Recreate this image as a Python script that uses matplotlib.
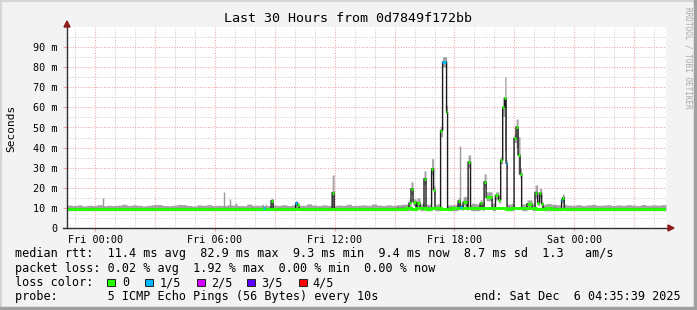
import numpy as np
import matplotlib
matplotlib.use("Agg")
import matplotlib.pyplot as plt
from matplotlib.patches import Rectangle, Polygon
from datetime import datetime, timedelta

W, H = 697, 310
MONO = "DejaVu Sans Mono"
GREEN, BLUE = "#26ff00", "#00b8ff"
SMOKE = "#a4a4a4"

END = datetime(2025, 12, 6, 4, 35, 39)
SPAN_H = 30
START = END - timedelta(hours=SPAN_H)

# ---- baseline, 15-minute bins (ms) ----
BIN_H = 0.25
base_med = [
    9.5, 9.5, 9.6, 9.5, 9.5, 9.4, 9.5, 9.5, 9.6, 9.5,
    9.5, 9.5, 9.4, 9.5, 9.5, 9.5, 9.6, 9.5, 9.5, 9.5,
    9.5, 9.4, 9.5, 9.5, 9.5, 9.6, 9.5, 9.5, 9.5, 9.4,
    9.5, 9.5, 9.5, 9.6, 9.5, 9.5, 9.5, 9.5, 9.4, 9.5,
    9.5, 9.5, 9.6, 9.5, 9.5, 9.5, 9.4, 9.5, 9.5, 9.5,
    9.6, 9.5, 9.5, 9.5, 9.5, 9.4, 9.5, 9.5, 9.6, 9.5,
    9.5, 9.5, 9.5, 9.5, 9.6, 9.6, 9.7, 9.7, 9.8, 9.7,
    9.8, 9.8, 9.7, 9.8, 9.8, 9.7, 9.7, 9.8, 9.9, 9.8,
    9.8, 9.9, 9.8, 9.9, 9.8, 9.8, 9.9, 9.8, 9.7, 9.8,
    9.8, 9.9, 9.8, 9.8, 9.7, 9.7, 9.8, 9.7, 9.6, 9.6,
    9.5, 9.5, 9.5, 9.4, 9.5, 9.5, 9.5, 9.5, 9.4, 9.5,
    9.5, 9.5, 9.5, 9.5, 9.4, 9.5, 9.5, 9.5, 9.5, 9.5,
]
base_hi = [
    11.4, 11.2, 11.5, 11.0, 11.3, 11.2, 11.6, 11.1, 11.3, 11.2,
    11.4, 11.8, 11.2, 11.5, 11.3, 11.0, 11.3, 11.6, 11.7, 11.2,
    11.1, 11.3, 11.7, 11.6, 11.2, 11.0, 11.5, 11.3, 11.6, 11.2,
    11.3, 11.2, 11.5, 11.4, 11.2, 11.1, 11.9, 11.3, 11.3, 11.8,
    11.2, 11.4, 11.3, 11.6, 11.2, 11.5, 11.3, 11.3, 12.0, 11.4,
    11.2, 11.5, 11.3, 11.1, 11.4, 11.3, 11.8, 11.2, 11.3, 11.5,
    11.3, 11.9, 11.4, 11.2, 11.5, 11.3, 11.6, 11.8, 12.0, 11.6,
    11.9, 12.2, 11.8, 11.5, 12.0, 11.7, 11.5, 11.6, 12.1, 11.8,
    11.6, 12.3, 11.9, 12.5, 11.8, 12.4, 12.0, 11.7, 11.9, 12.2,
    11.8, 12.0, 12.6, 12.3, 12.0, 11.8, 12.2, 11.8, 11.6, 11.9,
    11.4, 11.3, 11.6, 11.2, 11.5, 11.7, 11.3, 11.4, 11.6, 11.2,
    11.5, 11.3, 11.6, 11.4, 11.2, 11.7, 11.3, 11.5, 11.4, 11.6,
]
SMOKE_FLOOR = 8.6

# ---- latency excursions: hours since start, median / smoke range (ms), lost pings ----
ev_t0 = [9.841, 10.217, 11.444, 11.544, 13.272, 17.128, 17.228, 17.329, 17.529, 17.879,
         18.255, 18.355, 18.706, 18.806, 19.006, 19.582, 19.707, 19.833, 20.083, 20.684,
         20.884, 20.985, 21.460, 21.611, 21.711, 21.811, 21.911, 21.986, 22.387, 22.487,
         22.587, 22.687, 23.038, 23.438, 23.564, 23.664, 23.764, 24.766, 24.816]
ev_t1 = [9.916, 10.317, 11.544, 11.619, 13.372, 17.228, 17.329, 17.479, 17.679, 17.980,
         18.355, 18.430, 18.806, 19.006, 19.056, 19.682, 19.782, 20.033, 20.208, 20.784,
         20.985, 21.285, 21.611, 21.711, 21.811, 21.911, 21.986, 22.036, 22.487, 22.587,
         22.687, 22.763, 23.288, 23.564, 23.664, 23.764, 23.839, 24.816, 24.891]
ev_med = [9.8, 13.5, 12.3, 11.2, 17.6, 12.5, 19.5, 13.0, 12.5, 24.5,
          29.5, 19.0, 48.5, 82.6, 57.5, 13.5, 10.5, 12.8, 32.8, 12.3,
          23.0, 15.2, 16.2, 14.0, 33.8, 60.0, 64.5, 32.2, 44.6, 50.2,
          36.3, 27.0, 12.0, 17.6, 12.5, 17.3, 12.0, 14.0, 15.1]
ev_lo = [9.0, 10.0, 10.0, 10.0, 10.0, 10.0, 16.5, 11.0, 10.5, 21.5,
         26.5, 17.0, 45.4, 80.0, 56.0, 10.5, 9.5, 11.0, 30.0, 10.5,
         20.5, 13.5, 14.0, 12.5, 32.0, 55.5, 38.8, 30.5, 42.5, 40.0,
         26.5, 25.0, 10.5, 15.0, 11.0, 15.0, 10.5, 12.5, 13.0]
ev_hi = [11.0, 14.8, 13.5, 12.5, 26.4, 14.5, 23.0, 14.5, 15.0, 28.4,
         34.5, 21.0, 50.7, 85.2, 61.0, 15.0, 12.0, 15.6, 36.3, 14.0,
         27.0, 18.0, 18.0, 15.5, 35.5, 65.0, 75.3, 34.0, 46.5, 54.2,
         45.4, 30.0, 14.0, 21.4, 14.0, 19.7, 13.0, 15.5, 16.9]
ev_loss = [1, 0, 1, 0, 0, 0, 0, 0, 0, 0,
           0, 0, 0, 1, 0, 0, 1, 0, 0, 0,
           0, 0, 0, 0, 0, 0, 0, 1, 0, 0,
           0, 0, 0, 0, 0, 0, 0, 1, 0]

# single slow pings poking out of the smoke
out_t = [1.803, 7.863, 8.164, 8.464, 19.690]
out_hi = [14.8, 17.8, 14.4, 12.6, 41.0]

loss_labels = ["0", "1/5", "2/5", "3/5", "4/5"]
loss_colors = [GREEN, BLUE, "#d400ff", "#5a00ff", "#ff0000"]

# ---- assemble the series on a fine time grid ----
dt = 0.01
t = np.arange(0, SPAN_H + dt / 2, dt)
idx = np.minimum((t / BIN_H).astype(int), len(base_med) - 1)
med = np.array(base_med)[idx]
lo = np.full_like(med, SMOKE_FLOOR)
hi = np.array(base_hi)[idx]
for t0, t1, m, l, h in zip(ev_t0, ev_t1, ev_med, ev_lo, ev_hi):
    sel = (t >= t0) & (t < t1)
    med[sel], lo[sel], hi[sel] = m, l, h


def px(x, y):
    return x / W, 1 - y / H


fig = plt.figure(figsize=(W / 100, H / 100), dpi=100, facecolor="#f3f3f3")
ax = fig.add_axes([67 / W, (H - 228) / H, 599 / W, 201 / H])
ax.set_facecolor("white")
ax.set_xlim(0, SPAN_H)
ax.set_ylim(0, 100)
for s in ax.spines.values():
    s.set_visible(False)

# grid
hour0 = (60 - START.minute - START.second / 60) / 60
hours = np.arange(hour0, SPAN_H, 1.0)
for k, hx in enumerate(hours):
    clock = (START.hour + 1 + k) % 24
    major = clock % 3 == 0
    ax.axvline(hx, color="#f0a0a0" if major else "#cccccc", lw=0.75,
               ls=(0, (1, 1.5)), zorder=0.5)
for v in range(5, 100, 5):
    ax.axhline(v, color="#f0a0a0" if v % 10 == 0 else "#cccccc", lw=0.75,
               ls=(0, (1, 1.5)), zorder=0.5)

# smoke + median
ax.fill_between(t, lo, hi, step="post", color=SMOKE, lw=0, zorder=1)
ax.vlines(out_t, 10, out_hi, color="#9a9a9a", lw=1.0, zorder=1)
ax.step(t, med, where="post", color="#1c1c1c", lw=1.0, zorder=2)
edges = np.arange(len(base_med) + 1) * BIN_H
ax.stairs(base_med, edges, color=GREEN, lw=2.1, baseline=None, zorder=3)
ax.hlines(ev_med, ev_t0, ev_t1, colors=[loss_colors[l] for l in ev_loss], lw=2.1, zorder=4)

# ticks
labels_at = [hx for k, hx in enumerate(hours) if (START.hour + 1 + k) % 6 == 0]
tick_names = [(START + timedelta(hours=h, seconds=30)).strftime("%a %H:%M") for h in labels_at]
ax.set_xticks(labels_at)
ax.set_xticklabels(tick_names, fontfamily=MONO, fontsize=7.3)
ax.set_yticks(range(0, 100, 10))
ax.set_yticklabels(["0"] + [f"{v} m" for v in range(10, 100, 10)], fontfamily=MONO, fontsize=7.3)
ax.tick_params(axis="x", length=2, color="#f0a0a0", pad=3)
ax.tick_params(axis="y", length=3, color="#f0a0a0", pad=4)

# axis lines with arrows
axc = "#303030"
ax.plot([-4 / 599, 601 / 599], [0, 0], color=axc, lw=1.0, transform=ax.transAxes, clip_on=False, zorder=5)
ax.plot([0, 0], [0, 204 / 201], color=axc, lw=1.0, transform=ax.transAxes, clip_on=False, zorder=5)
arrow = "#8c1c1c"
ax.add_patch(Polygon([(601 / 599, 3 / 201), (601 / 599, -3 / 201), (607 / 599, 0)], closed=True,
                     color=arrow, transform=ax.transAxes, clip_on=False, zorder=6))
ax.add_patch(Polygon([(-3 / 599, 201 / 201), (3 / 599, 201 / 201), (0, 207 / 201)], closed=True,
                     color=arrow, transform=ax.transAxes, clip_on=False, zorder=6))

# title / labels
fig.text(*px(348, 19), "Last 30 Hours from 0d7849f172bb", ha="center", va="center",
         fontfamily=MONO, fontsize=9.6)
fig.text(*px(11, 128), "Seconds", rotation=90, ha="center", va="center", fontfamily=MONO, fontsize=8)
fig.text(*px(688, 58), "RRDTOOL / TOBI OETIKER", rotation=270, ha="center", va="center",
         fontfamily=MONO, fontsize=5.6, color="#a8a8a8")

# legend block
LEG = 8.5
rows = [
    "median rtt:  11.4 ms avg  82.9 ms max  9.3 ms min  9.4 ms now  8.7 ms sd  1.3   am/s",
    "packet loss: 0.02 % avg  1.92 % max  0.00 % min  0.00 % now",
    "loss color:",
    "probe:       5 ICMP Echo Pings (56 Bytes) every 10s",
]
for y, row in zip([254, 268.3, 282.5, 296.5], rows):
    fig.text(*px(15, y), row, ha="left", va="center", fontfamily=MONO, fontsize=LEG)
fig.text(*px(681, 296.5), "end: Sat Dec  6 04:35:39 2025", ha="right", va="center",
         fontfamily=MONO, fontsize=LEG)

box_x = [107.3, 145.0, 197.3, 247.3, 299.0]
text_x = [122.5, 159.3, 211.0, 261.5, 312.5]
for bx, tx, name, col in zip(box_x, text_x, loss_labels, loss_colors):
    x0, y0 = px(bx, 286.3)
    fig.add_artist(Rectangle((x0, y0), 7.5 / W, 7.5 / H, transform=fig.transFigure,
                             facecolor=col, edgecolor="#202020", lw=0.7))
    fig.text(*px(tx, 282.5), name, ha="left", va="center", fontfamily=MONO, fontsize=LEG)

# image frame
fig.add_artist(plt.Line2D([0, 1], [1 - 1 / H, 1 - 1 / H], transform=fig.transFigure, color="#d6d6d6", lw=1.5))
fig.add_artist(plt.Line2D([1 / W, 1 / W], [0, 1], transform=fig.transFigure, color="#d6d6d6", lw=1.5))
fig.add_artist(plt.Line2D([0, 1], [2 / H, 2 / H], transform=fig.transFigure, color="#a0a0a0", lw=2.5))
fig.add_artist(plt.Line2D([1 - 2 / W, 1 - 2 / W], [0, 1], transform=fig.transFigure, color="#a0a0a0", lw=2.5))

fig.savefig("out.png", dpi=100, facecolor=fig.get_facecolor())
